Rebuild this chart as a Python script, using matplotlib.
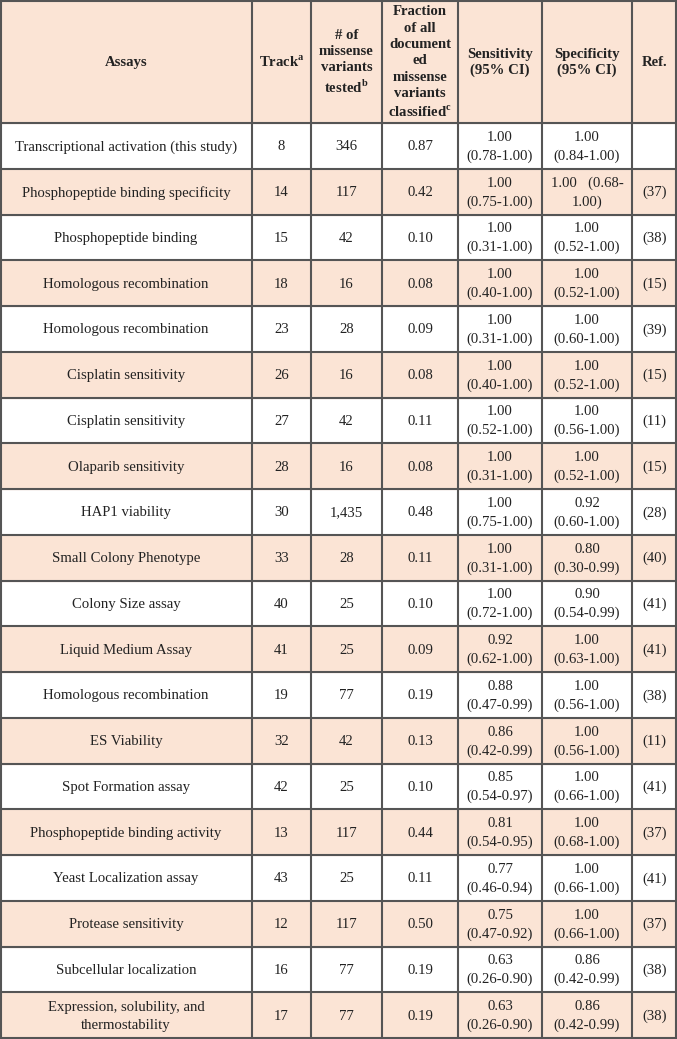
import matplotlib
matplotlib.use("Agg")
import matplotlib.pyplot as plt
from matplotlib.patches import Rectangle

plt.rcParams['font.family'] = ['Liberation Serif', 'DejaVu Serif']
plt.rcParams['mathtext.fontset'] = 'custom'
plt.rcParams['mathtext.rm'] = 'Liberation Serif'
plt.rcParams['mathtext.bf'] = 'Liberation Serif:bold'

# ---- data ----
headers = ["Assays", r"Track$^{\mathbf{a}}$",
           "# of\nmissense\nvariants\n" + r"tested$^{\mathbf{b}}$",
           "Fraction\nof all\ndocument\ned\nmissense\nvariants\n" + r"classified$^{\mathbf{c}}$",
           "Sensitivity\n(95% CI)", "Specificity\n(95% CI)", "Ref."]

assays = ["Transcriptional activation (this study)", "Phosphopeptide binding specificity",
          "Phosphopeptide binding", "Homologous recombination", "Homologous recombination",
          "Cisplatin sensitivity", "Cisplatin sensitivity", "Olaparib sensitivity",
          "HAP1 viability", "Small Colony Phenotype", "Colony Size assay",
          "Liquid Medium Assay", "Homologous recombination", "ES Viability",
          "Spot Formation assay", "Phosphopeptide binding activity",
          "Yeast Localization assay", "Protease sensitivity", "Subcellular localization",
          "Expression, solubility, and\nthermostability"]
tracks = ["8", "14", "15", "18", "23", "26", "27", "28", "30", "33", "40", "41", "19",
          "32", "42", "13", "43", "12", "16", "17"]
n_tested = ["346", "117", "42", "16", "28", "16", "42", "16", "1,435", "28", "25", "25",
            "77", "42", "25", "117", "25", "117", "77", "77"]
fraction = [0.87, 0.42, 0.10, 0.08, 0.09, 0.08, 0.11, 0.08, 0.48, 0.11, 0.10, 0.09,
            0.19, 0.13, 0.10, 0.44, 0.11, 0.50, 0.19, 0.19]
sens_val = [1.00, 1.00, 1.00, 1.00, 1.00, 1.00, 1.00, 1.00, 1.00, 1.00, 1.00, 0.92,
            0.88, 0.86, 0.85, 0.81, 0.77, 0.75, 0.63, 0.63]
sens_lo = [0.78, 0.75, 0.31, 0.40, 0.31, 0.40, 0.52, 0.31, 0.75, 0.31, 0.72, 0.62,
           0.47, 0.42, 0.54, 0.54, 0.46, 0.47, 0.26, 0.26]
sens_hi = [1.00, 1.00, 1.00, 1.00, 1.00, 1.00, 1.00, 1.00, 1.00, 1.00, 1.00, 1.00,
           0.99, 0.99, 0.97, 0.95, 0.94, 0.92, 0.90, 0.90]
spec_val = [1.00, 1.00, 1.00, 1.00, 1.00, 1.00, 1.00, 1.00, 0.92, 0.80, 0.90, 1.00,
            1.00, 1.00, 1.00, 1.00, 1.00, 1.00, 0.86, 0.86]
spec_lo = [0.84, 0.68, 0.52, 0.52, 0.60, 0.52, 0.56, 0.52, 0.60, 0.30, 0.54, 0.63,
           0.56, 0.56, 0.66, 0.68, 0.66, 0.66, 0.42, 0.42]
spec_hi = [1.00, 1.00, 1.00, 1.00, 1.00, 1.00, 1.00, 1.00, 1.00, 0.99, 0.99, 1.00,
           1.00, 1.00, 1.00, 1.00, 1.00, 1.00, 0.99, 0.99]
refs = ["", "(37)", "(38)", "(15)", "(39)", "(15)", "(11)", "(15)", "(28)", "(40)",
        "(41)", "(41)", "(38)", "(11)", "(41)", "(37)", "(41)", "(37)", "(38)", "(38)"]

# ---- layout ----
W, H = 677, 1039
col_edges = [0, 252, 311, 382, 458, 542, 632, 677]
header_h = 123
row_h = (1038 - header_h) / len(assays)
peach = "#FBE4D5"
line_c = "#555555"
txt_c = "#222222"

fig = plt.figure(figsize=(W / 100, H / 100), dpi=100)
ax = fig.add_axes([0, 0, 1, 1])
ax.set_xlim(0, W)
ax.set_ylim(H, 0)
ax.axis("off")

# backgrounds
ax.add_patch(Rectangle((0, 0), W, header_h, color=peach, zorder=0))
for i in range(len(assays)):
    if i % 2 == 1:
        ax.add_patch(Rectangle((0, header_h + i * row_h), W, row_h, color=peach, zorder=0))

# header text
hy = header_h / 2
for j, h in enumerate(headers):
    cx = (col_edges[j] + col_edges[j + 1]) / 2
    ax.text(cx, hy + 1, h, ha="center", va="center", fontsize=10.6, fontweight="bold",
            color=txt_c, linespacing=1.34, multialignment="center")

def fmt(v, lo, hi):
    return f"{v:.2f}\n({lo:.2f}-{hi:.2f})"

for i in range(len(assays)):
    cy = header_h + (i + 0.5) * row_h
    spec_txt = fmt(spec_val[i], spec_lo[i], spec_hi[i])
    if i == 1:
        spec_txt = f"{spec_val[i]:.2f}   ({spec_lo[i]:.2f}-\n{spec_hi[i]:.2f})"
    cells = [assays[i], tracks[i], n_tested[i], f"{fraction[i]:.2f}",
             fmt(sens_val[i], sens_lo[i], sens_hi[i]), spec_txt, refs[i]]
    for j, c in enumerate(cells):
        cx = (col_edges[j] + col_edges[j + 1]) / 2
        ax.text(cx, cy + 1, c, ha="center", va="center", fontsize=10.6, color=txt_c,
                linespacing=1.52, multialignment="center")

# grid lines
for k in range(len(assays) + 1):
    y = header_h + k * row_h
    ax.plot([0, W], [y, y], color=line_c, lw=1.5, solid_capstyle="butt", zorder=2)
ax.plot([0, W], [0.7, 0.7], color=line_c, lw=1.5, zorder=2)
for x in col_edges:
    xx = min(max(x, 0.7), W - 0.7)
    ax.plot([xx, xx], [0, H], color=line_c, lw=1.5, zorder=2)

fig.savefig("out.png", dpi=100)
